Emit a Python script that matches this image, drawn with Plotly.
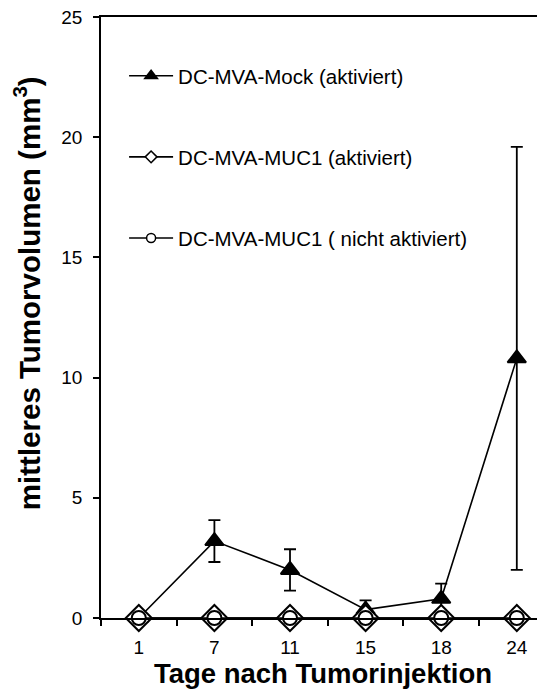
import plotly.graph_objects as go

# ---- data ----
days = ["1", "7", "11", "15", "18", "24"]
mock_mean = [0, 3.2, 2.0, 0.35, 0.8, 10.8]
mock_err = [0, 0.87, 0.86, 0.38, 0.63, 8.8]
muc1_act = [0, 0, 0, 0, 0, 0]
muc1_nonact = [0, 0, 0, 0, 0, 0]
series_names = ["DC-MVA-Mock (aktiviert)", "DC-MVA-MUC1 (aktiviert)",
                "DC-MVA-MUC1 ( nicht aktiviert)"]
y_ticks = [0, 5, 10, 15, 20, 25]
x_title = "Tage nach Tumorinjektion"
y_title = "mittleres Tumorvolumen (mm<sup>3</sup>)"

FONT = "Liberation Sans, Arial, sans-serif"
BLACK = "#000000"

fig = go.Figure()

fig.add_trace(go.Scatter(
    x=days, y=mock_mean, mode="lines+markers", showlegend=False,
    line=dict(color=BLACK, width=1.6),
    marker=dict(symbol="triangle-up", size=16, color=BLACK,
                line=dict(color=BLACK, width=2)),
    error_y=dict(type="data", array=mock_err, symmetric=True,
                 color=BLACK, thickness=1.8, width=6),
    cliponaxis=False))
fig.add_trace(go.Scatter(
    x=days, y=muc1_act, mode="lines+markers", showlegend=False,
    line=dict(color=BLACK, width=1.6),
    marker=dict(symbol="diamond", size=20, color="white",
                line=dict(color=BLACK, width=2)),
    cliponaxis=False))
fig.add_trace(go.Scatter(
    x=days, y=muc1_nonact, mode="lines+markers", showlegend=False,
    line=dict(color=BLACK, width=1.6),
    marker=dict(symbol="circle", size=14, color="white",
                line=dict(color=BLACK, width=2)),
    cliponaxis=False))

legend_specs = [
    ("legend", "triangle-up", 11, BLACK),
    ("legend2", "diamond", 9, "white"),
    ("legend3", "circle", 9, "white"),
]
for name, (lg, sym, sz, fillc) in zip(series_names, legend_specs):
    fig.add_trace(go.Scatter(
        x=[None], y=[None], mode="lines+markers", name=name, legend=lg,
        line=dict(color=BLACK, width=1.6),
        marker=dict(symbol=sym, size=sz, color=fillc,
                    line=dict(color=BLACK, width=1.5))))

legend_common = dict(font=dict(family=FONT, size=20.5, color=BLACK),
                     bgcolor="rgba(0,0,0,0)", borderwidth=0,
                     xanchor="left", yanchor="middle", x=0.052,
                     itemwidth=44)

fig.update_layout(
    width=537, height=687,
    margin=dict(l=93, r=0, t=9, b=77, autoexpand=False),
    paper_bgcolor="white", plot_bgcolor="white",
    font=dict(family=FONT, size=19, color=BLACK),
    legend=dict(y=0.902, **legend_common),
    legend2=dict(y=0.767, **legend_common),
    legend3=dict(y=0.632, **legend_common),
    xaxis=dict(
        type="category", categoryorder="array", categoryarray=days,
        range=[-0.5, 5.373], showgrid=False, zeroline=False,
        showline=True, linecolor=BLACK, linewidth=1.5, mirror=True,
        ticks="outside", ticklen=6, tickwidth=1.5, tickcolor=BLACK,
        tickson="boundaries", automargin=False, ticklabelstandoff=11,
        ticklabeloverflow="allow",
        tickfont=dict(family=FONT, size=19, color=BLACK),
        title=dict(text="<b>" + x_title + "</b>",
                   font=dict(family=FONT, size=27.5, color=BLACK),
                   standoff=4),
    ),
    yaxis=dict(
        range=[0, 25], tickvals=y_ticks, showgrid=False, zeroline=False,
        showline=True, linecolor=BLACK, linewidth=1.5, automargin=False,
        ticks="outside", ticklen=6, tickwidth=1.5, tickcolor=BLACK,
        ticklabelstandoff=7, ticklabeloverflow="allow",
        tickfont=dict(family=FONT, size=19, color=BLACK),
    ),
    annotations=[dict(
        text="<b>" + y_title + "</b>", textangle=-90,
        xref="paper", yref="paper", x=-0.166, y=0.541,
        xanchor="center", yanchor="middle", showarrow=False,
        font=dict(family=FONT, size=29.5, color=BLACK))],
)

fig.write_html("out.html")
